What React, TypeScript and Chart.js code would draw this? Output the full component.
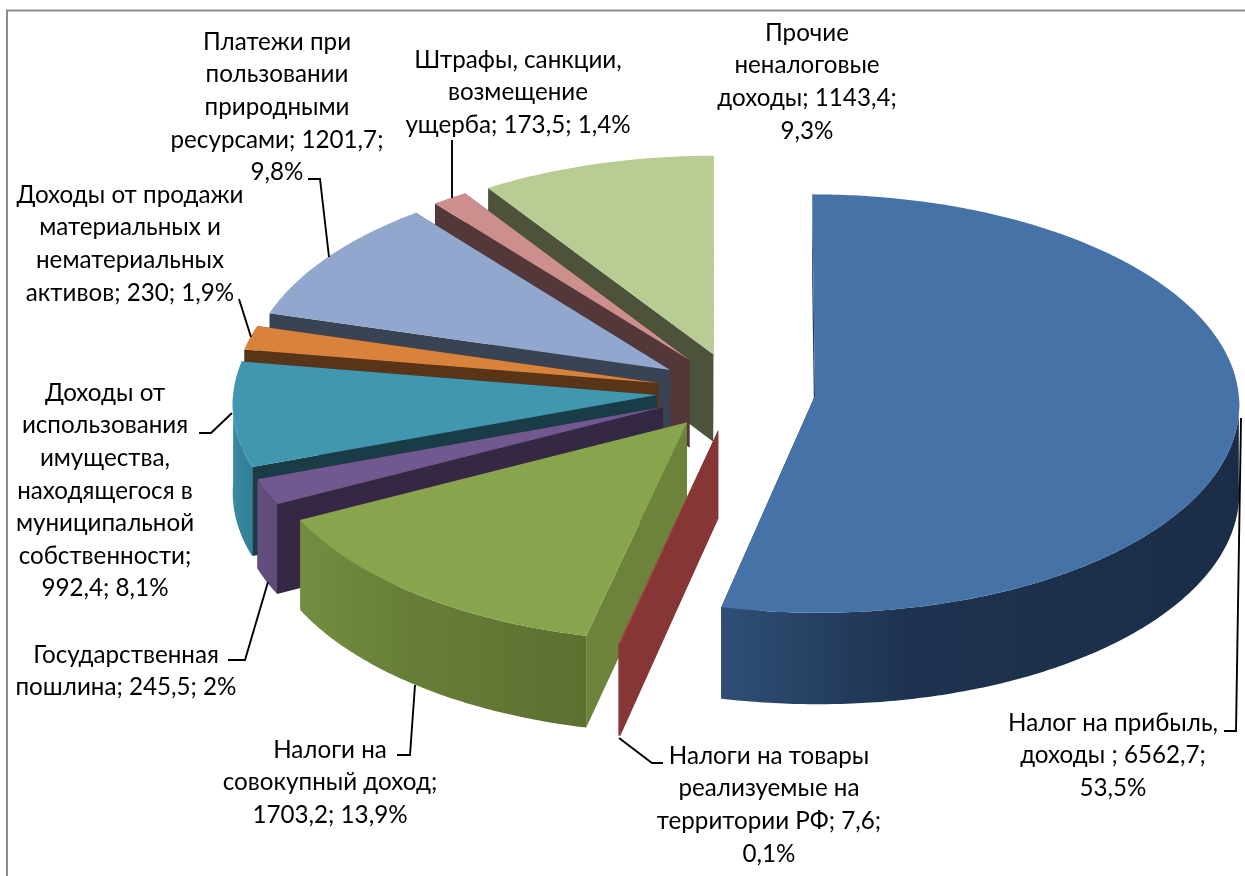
import React, { useEffect, useRef } from "react";
import { Chart, registerables } from "chart.js";

Chart.register(...registerables);

// ---- data ----
const categories = [
  "Налог на прибыль, доходы",
  "Налоги на товары реализуемые на территории РФ",
  "Налоги на совокупный доход",
  "Государственная пошлина",
  "Доходы от использования имущества, находящегося в муниципальной собственности",
  "Доходы от продажи материальных и нематериальных активов",
  "Платежи при пользовании природными ресурсами",
  "Штрафы, санкции, возмещение ущерба",
  "Прочие неналоговые доходы",
];
const values = [6562.7, 7.6, 1703.2, 245.5, 992.4, 230, 1201.7, 173.5, 1143.4];
const labelLines = [
  ["Налог на прибыль,", "доходы ; 6562,7;", "53,5%"],
  ["Налоги на товары", "реализуемые на", "территории РФ; 7,6;", "0,1%"],
  ["Налоги на", "совокупный доход;", "1703,2; 13,9%"],
  ["Государственная", "пошлина; 245,5; 2%"],
  ["Доходы от", "использования", "имущества,", "находящегося в", "муниципальной", "собственности;", "992,4; 8,1%"],
  ["Доходы от продажи", "материальных и", "нематериальных", "активов; 230; 1,9%"],
  ["Платежи при", "пользовании", "природными", "ресурсами; 1201,7;", "9,8%"],
  ["Штрафы, санкции,", "возмещение", "ущерба; 173,5; 1,4%"],
  ["Прочие", "неналоговые", "доходы; 1143,4;", "9,3%"],
];

// ---- styles and layout ----
const topColors = ["#4572a7", "#aa4643", "#88a54e", "#71588f", "#4097af", "#d9823b", "#91a7ce", "#cd8f8e", "#b8cc94"];
const faceColors = ["#24395a", "#863634", "#6d833c", "#352844", "#1a3c47", "#5a3417", "#3a4354", "#543739", "#4c533a"];
const wallStops = [
  ["#2f4f76", "#1e3350", "#1b2d46"], ["#863634", "#863634", "#863634"], ["#748e40", "#687f38", "#5c7030"], ["#654f80", "#624c7c", "#5f4a78"],
  ["#3d8ba3", "#36859c", "#2f7f96"], ["#a05f28", "#a05f28", "#a05f28"], ["#6b7c99", "#6b7c99", "#6b7c99"], ["#96696a", "#96696a", "#96696a"], ["#87966d", "#87966d", "#87966d"],
];
const labelCenterX = [1113, 769, 330, 126, 105, 130, 277, 518, 807];
const labelFirstY = [723, 756, 750, 655, 393, 195, 42, 60, 33];
const LINE_H = 32.6;
const FONT = '24.2px Lato, "Open Sans", sans-serif';
const leaders = [
  [[1241, 418], [1236, 731], [1224, 731]],
  [[619, 738], [652, 763], [663, 763]],
  [[415, 685], [410, 755], [397, 755]],
  [[268, 582], [245, 660], [228, 660]],
  [[232, 413], [211, 433], [199, 433]],
  [[251, 337], [239, 299]],
  [[329, 257], [320, 179], [308, 179]],
  [[452, 198], [452, 140]],
];

const CX = 736, CY = 391.5, RX = 423.5, RY = 208.6, P = 0.037, H = 88;

function project(u: number, v: number, z: number): [number, number] {
  const s = 1 / (1 - P * v);
  return [CX + RX * u * s, CY + RY * v * s + z * s];
}

const pie3d = {
  id: "pie3d",
  beforeDatasetsDraw(chart: any) {
    const ctx = chart.ctx as CanvasRenderingContext2D;
    const arcs: any[] = chart.getDatasetMeta(0).data;
    const items = arcs.map((el, i) => {
      const a0 = el.startAngle as number, a1 = el.endAngle as number;
      const mid = (a0 + a1) / 2;
      const off = (el.options.offset || 0) / 4 / el.outerRadius;
      const ou = off * Math.cos(mid), ov = off * Math.sin(mid);
      return { i, a0, a1, mid, ou, ov };
    });
    items.sort((a, b) => Math.sin(a.mid) - Math.sin(b.mid));
    const poly = (pts: [number, number][], fill: any) => {
      ctx.beginPath();
      pts.forEach((p, k) => (k ? ctx.lineTo(p[0], p[1]) : ctx.moveTo(p[0], p[1])));
      ctx.closePath();
      ctx.fillStyle = fill;
      ctx.fill();
    };
    for (const it of items) {
      const { i, a0, a1, ou, ov } = it;
      const at = (t: number, z: number) => project(ou + Math.cos(t), ov + Math.sin(t), z);
      const apex = (z: number) => project(ou, ov, z);
      // radial faces
      poly([apex(0), at(a0, 0), at(a0, H), apex(H)], faceColors[i]);
      poly([apex(0), at(a1, 0), at(a1, H), apex(H)], faceColors[i]);
      // outer wall, only its viewer-facing part
      const wa0 = Math.max(a0, 0), wa1 = Math.min(a1, Math.PI);
      const wa0b = a0 > Math.PI ? a0 : wa0;
      if (wa1 > wa0b) {
        const top: [number, number][] = [], bot: [number, number][] = [];
        const n = Math.max(2, Math.ceil((wa1 - wa0b) * 90));
        for (let k = 0; k <= n; k++) {
          const t = wa0b + ((wa1 - wa0b) * k) / n;
          top.push(at(t, 0));
          bot.unshift(at(t, H));
        }
        const xs = top.map((p) => p[0]);
        const g = ctx.createLinearGradient(Math.min(...xs), 0, Math.max(...xs) + 1, 0);
        g.addColorStop(0, wallStops[i][0]);
        g.addColorStop(0.35, wallStops[i][1]);
        g.addColorStop(1, wallStops[i][2]);
        poly([...top, ...bot], g);
      }
      // top face
      const pts: [number, number][] = [apex(0)];
      const n = Math.max(2, Math.ceil((a1 - a0) * 90));
      for (let k = 0; k <= n; k++) pts.push(at(a0 + ((a1 - a0) * k) / n, 0));
      poly(pts, topColors[i]);
    }
    return false;
  },
  afterDraw(chart: any) {
    const ctx = chart.ctx as CanvasRenderingContext2D;
    ctx.save();
    // frame: only its top and left sides fall inside the picture
    ctx.strokeStyle = "#8c8c8c";
    ctx.lineWidth = 2;
    ctx.strokeRect(7, 10.5, 1300, 900);
    // leader lines
    ctx.strokeStyle = "#000";
    ctx.lineWidth = 1.9;
    leaders.forEach((l) => {
      ctx.beginPath();
      l.forEach((p, k) => (k ? ctx.lineTo(p[0], p[1]) : ctx.moveTo(p[0], p[1])));
      ctx.stroke();
    });
    // labels
    ctx.font = FONT;
    ctx.fillStyle = "#000";
    ctx.textAlign = "center";
    ctx.textBaseline = "middle";
    labelLines.forEach((lines, i) => {
      lines.forEach((t, k) => ctx.fillText(t, labelCenterX[i], labelFirstY[i] + k * LINE_H));
    });
    ctx.restore();
  },
};

export default function App() {
  const ref = useRef<HTMLCanvasElement | null>(null);
  useEffect(() => {
    const chart = new Chart(ref.current as HTMLCanvasElement, {
      type: "pie",
      data: {
        labels: categories,
        datasets: [{ data: values, backgroundColor: topColors, offset: 150, borderWidth: 0 }],
      },
      options: {
        responsive: false,
        animation: false,
        radius: 200,
        layout: { padding: 0 },
        plugins: { legend: { display: false }, tooltip: { enabled: false } },
      } as any,
      plugins: [pie3d as any],
    });
    return () => chart.destroy();
  }, []);
  return (
    <div style={{ position: "fixed", left: 0, top: 0, background: "#fff" }}>
      <canvas ref={ref} width={1245} height={876} style={{ display: "block" }} />
    </div>
  );
}
